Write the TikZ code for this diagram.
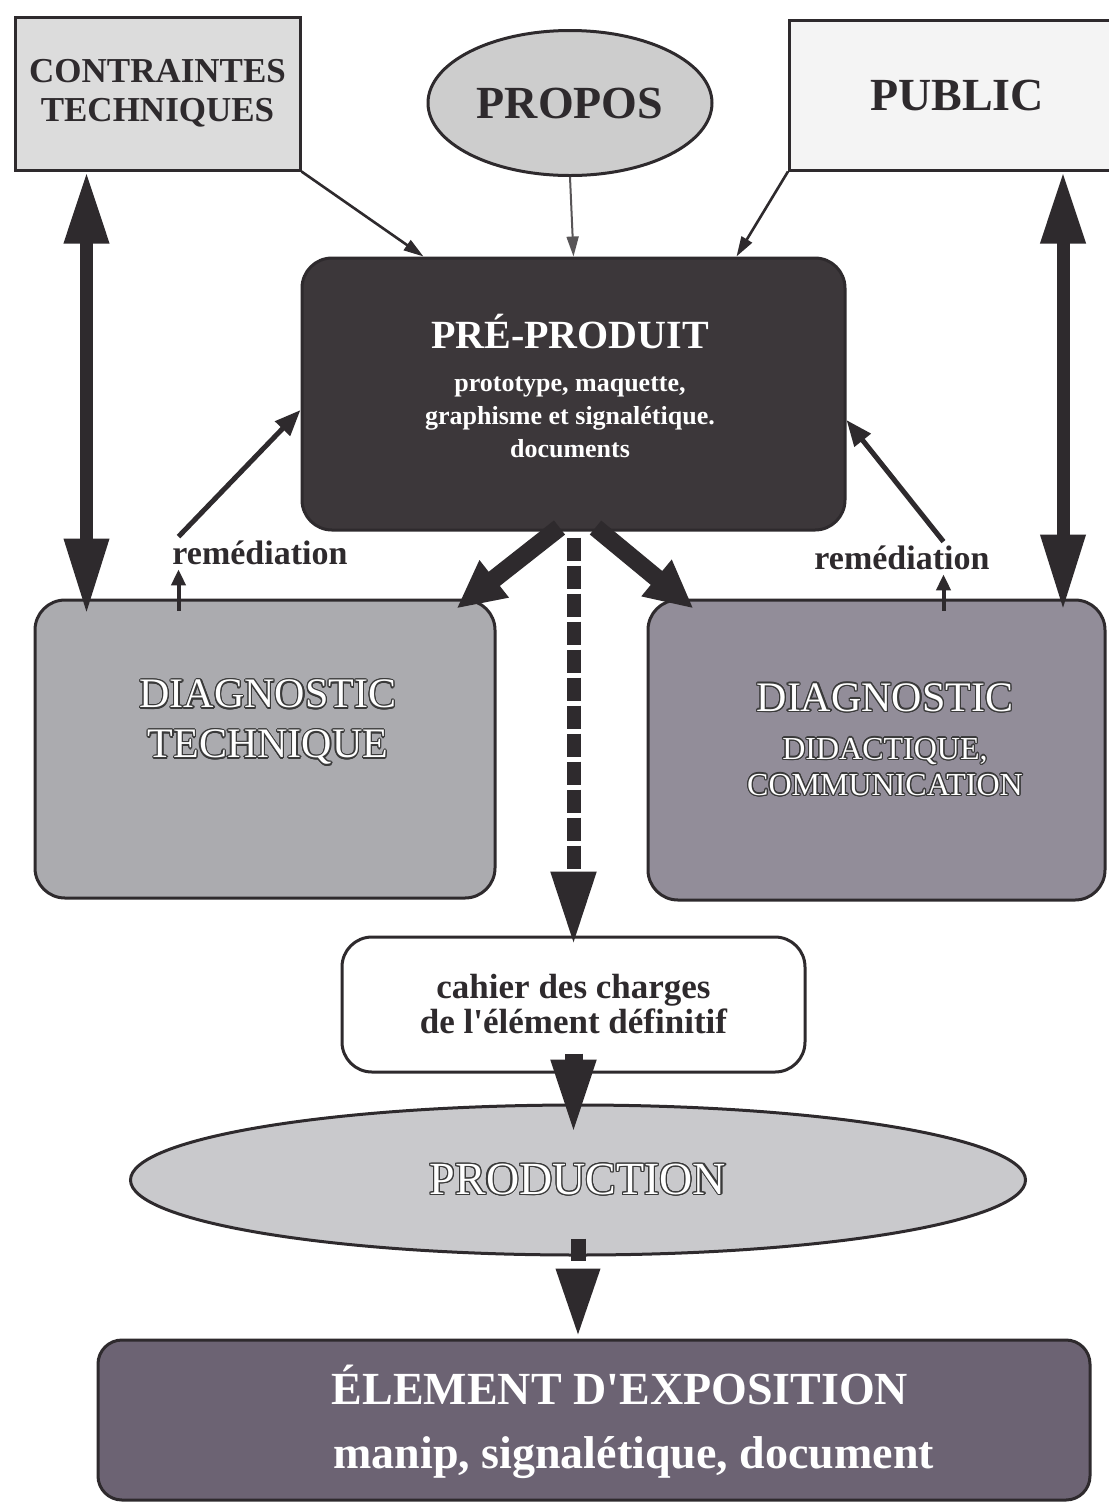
\documentclass[tikz,border=0pt]{standalone}
\usepackage{fontspec}
\setmainfont{Liberation Serif}
\newfontfamily\plainserif{Liberation Serif}
\usepackage{contour}
\contourlength{0.6pt}
\usetikzlibrary{shapes.geometric,arrows.meta}
\definecolor{ink}{HTML}{2E2A2D}
\definecolor{preC}{HTML}{3C373A}
\definecolor{ctC}{HTML}{DCDCDC}
\definecolor{proposC}{HTML}{CDCDCD}
\definecolor{publicC}{HTML}{F4F4F4}
\definecolor{dtC}{HTML}{ABABAF}
\definecolor{ddC}{HTML}{928D99}
\definecolor{prodC}{HTML}{C9C9CC}
\definecolor{elemC}{HTML}{6C6373}
\definecolor{outl}{HTML}{3A3A3A}
\newcommand{\fsz}[2]{\fontsize{#1}{#2}\selectfont}
\newcommand{\sq}{{\plainserif'}}
\begin{document}
\begin{tikzpicture}[x=0.5pt,y=-0.5pt,
  sqbox/.style={draw=ink,line width=1.5pt,rectangle,inner sep=0pt,align=center,text=ink},
  rbox/.style={draw=ink,line width=1.5pt,rectangle,rounded corners=15pt,inner sep=0pt,align=center},
  ovalnode/.style={draw=ink,line width=1.5pt,ellipse,inner sep=0pt,align=center},
  lbl/.style={inner sep=2pt,align=center},
  feedarr/.style={draw=ink,line width=1.3pt,-{Triangle[length=10pt,width=6pt]}},
  bigdbl/.style={draw=ink,line width=6.5pt,{Triangle[length=36pt,width=21pt]}-{Triangle[length=38pt,width=21pt]}},
  fatarr/.style={draw=ink,line width=9pt,-{Triangle[length=24pt,width=22pt]}},
  remarr/.style={draw=ink,line width=2.5pt,-{Triangle[length=13pt,width=10pt]}},
  smallup/.style={draw=ink,line width=2pt,-{Triangle[length=8pt,width=7pt]}},
  dasharr/.style={draw=ink,line width=7pt,dash pattern=on 11.5pt off 2.5pt,-{Triangle[length=37pt,width=21pt]}},
  headarr/.style={draw=ink,line width=9pt,-{Triangle[length=39pt,width=20pt]}},
  shortdash/.style={draw=ink,line width=7.5pt,dash pattern=on 11pt off 9pt,-{Triangle[length=35pt,width=20pt]}}
]
\fill[white] (0,0) rectangle (1109,1512);
\useasboundingbox (0,0) rectangle (1109,1512);

% top nodes
\node[sqbox,fill=ctC,minimum width=142.5pt,minimum height=76.5pt,font=\bfseries\fsz{17.5}{19.5}] (ct) at (157.5,93.5) {CONTRAINTES\\TECHNIQUES};
\node[ovalnode,fill=proposC,minimum width=142pt,minimum height=72.5pt,font=\bfseries\fsz{23}{26},text=ink] (propos) at (570,103) {PROPOS};
\node[sqbox,fill=publicC,minimum width=167.5pt,minimum height=75pt,font=\bfseries\fsz{23}{26}] (public) at (957,95) {PUBLIC};

% pre-produit
\node[rbox,fill=preC,minimum width=271.5pt,minimum height=136pt] (pre) at (573.5,394) {};
\node[lbl,text=white,font=\bfseries\fsz{13}{16.5}] (pretxt) at (570,386) {{\fsz{20}{24}PRÉ-PRODUIT}\\[5pt]prototype, maquette,\\graphisme et signalétique.\\documents};

% diagnostics
\node[rbox,fill=dtC,minimum width=230pt,minimum height=149pt] (dt) at (265,749) {};
\node[lbl,text=white,font=\fsz{21}{25}] (dttxt) at (268,723) {\contour{outl}{DIAGNOSTIC}\\\contour{outl}{TECHNIQUE}};
\node[rbox,fill=ddC,minimum width=228.5pt,minimum height=150pt] (dd) at (876.5,750) {};
\node[lbl,text=white,font=\fsz{16}{18}] (ddtxt) at (885,740) {{\fsz{21}{25}\contour{outl}{DIAGNOSTIC}}\\[6pt]\contour{outl}{DIDACTIQUE,}\\\contour{outl}{COMMUNICATION}};

% remediation labels
\node[lbl,font=\bfseries\fsz{17}{20},text=ink] (rem1) at (260,553) {remédiation};
\node[lbl,font=\bfseries\fsz{17}{20},text=ink] (rem2) at (902,558) {remédiation};

% cahier, production, element
\node[rbox,fill=white,minimum width=231.5pt,minimum height=67.5pt,font=\bfseries\fsz{17.5}{17.5},text=ink] (cahier) at (573.5,1004.5) {cahier des charges\\de l\sq élément définitif};
\node[ovalnode,fill=prodC,minimum width=447.5pt,minimum height=75pt,text=white,font=\fsz{23}{26}] (prod) at (578,1180) {\contour{outl}{PRODUCTION}};
\node[rbox,fill=elemC,rounded corners=12pt,minimum width=496pt,minimum height=80pt] (elem) at (594,1420) {};
\node[lbl,text=white,font=\bfseries\fsz{23}{30}] (elemtxt) at (620,1422) {ÉLEMENT D\sq EXPOSITION\\[2pt]\hspace*{0.6em}manip, signalétique, document};

% helper coordinates
\coordinate (r1a) at ([xshift=72.5pt,yshift=-6pt]dt.north west);
\coordinate (r2a) at ([xshift=148.5pt,yshift=-6pt]dd.north west);
\coordinate (la) at ([xshift=36.5pt]ct.south west);
\coordinate (lb) at ([yshift=-8pt]dt.north);
\coordinate (ra) at ([xshift=137.5pt]public.south west);
\coordinate (rb) at ([yshift=-6pt]dd.north);
\coordinate (ca) at ([yshift=10pt]cahier.south);
\coordinate (cb) at ([yshift=-17pt]prod.north);
\coordinate (pa) at ([yshift=9pt]prod.south);

% inputs to pre-produit
\draw[feedarr] (ct.south east) -- ([xshift=61.5pt]pre.north west);
\draw[feedarr,draw=ink!80,line width=1pt] (propos.south) -- (pre.north);
\draw[feedarr] (public.south west) -- ([xshift=-55pt]pre.north east);

% big double arrows
\draw[bigdbl] (la) -- (la |- lb);
\draw[bigdbl] (ra) -- (ra |- rb);

% remediation
\draw[smallup] (r1a) -- (r1a |- rem1.south);
\draw[remarr] (r1a |- rem1.north) -- ([yshift=-8pt]pre.west);
\draw[smallup] (r2a) -- (r2a |- rem2.south);
\draw[remarr] (r2a |- rem2.north) -- ([yshift=-13pt]pre.east);

% from pre-produit to diagnostics
\draw[fatarr] ([xshift=-7pt,yshift=2pt]pre.south) -- ([xshift=-20pt,yshift=-5pt]dt.north east);
\draw[fatarr] ([xshift=11pt,yshift=2pt]pre.south) -- ([xshift=23.5pt,yshift=-5pt]dd.north west);

% dashed to cahier
\draw[dasharr] ([yshift=-3pt]pre.south) -- ([yshift=-5pt]cahier.north);

% cahier to production
\draw[headarr] (ca) -- (ca |- cb);

% production to element
\draw[shortdash] (pa) -- (pa |- elem.north);
\end{tikzpicture}
\end{document}
